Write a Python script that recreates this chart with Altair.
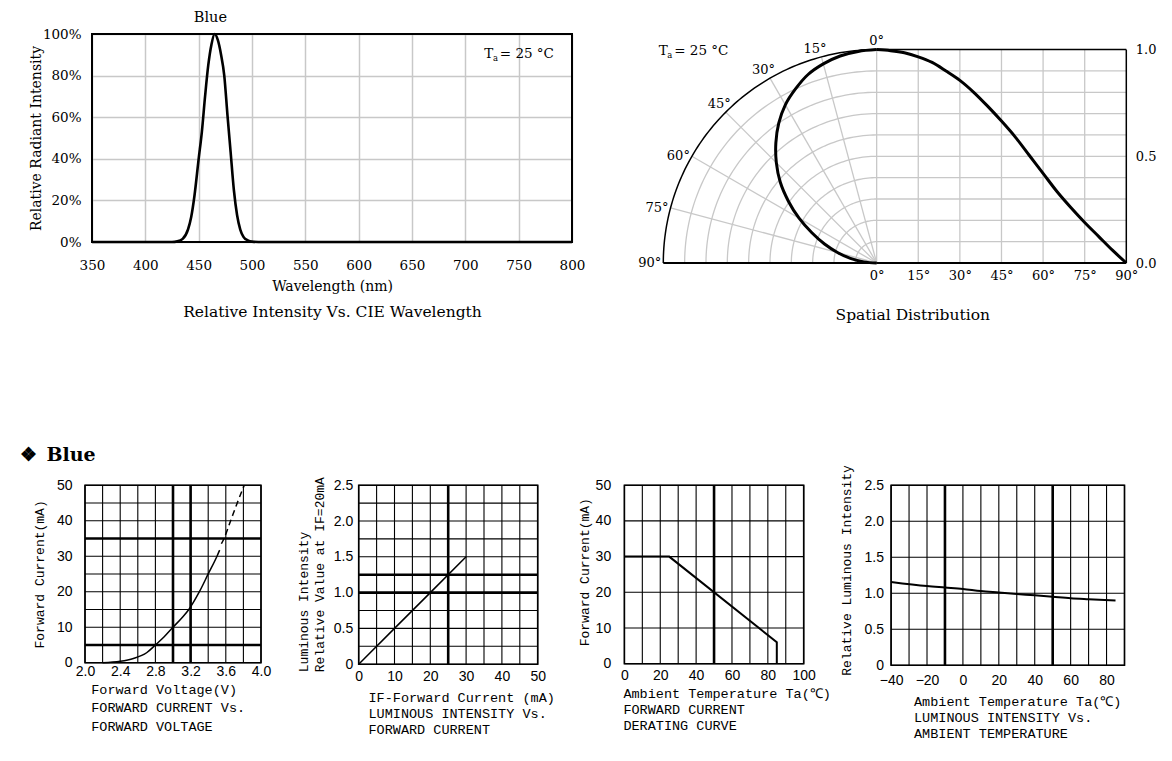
import math
import altair as alt
import pandas as pd

# ---------------- data ----------------
# Relative intensity vs wavelength (Blue)
spec_wl = [350, 400, 425, 430, 435, 440, 443, 446, 450, 453, 456, 459, 462, 465, 468, 471, 474, 477, 480, 483, 486, 489, 492, 496, 500, 510, 800]
spec_rel = [0, 0, 0, 0.3, 1.5, 6, 12, 22, 40, 53, 70, 85, 95, 100, 97, 90, 80, 61, 43, 25, 13, 6, 2.5, 0.8, 0.2, 0, 0]
spec_xticks = [350, 400, 450, 500, 550, 600, 650, 700, 750, 800]
spec_yticks = [0, 20, 40, 60, 80, 100]

# Spatial distribution
sp_angle = [0, 5, 10, 15, 20, 25, 30, 35, 40, 45, 50, 55, 60, 65, 70, 75, 80, 85, 90]
sp_int = [1.0, 0.995, 0.985, 0.966, 0.94, 0.90, 0.856, 0.80, 0.735, 0.665, 0.59, 0.505, 0.42, 0.335, 0.26, 0.19, 0.125, 0.06, 0.0]
polar_rings = [0.1, 0.2, 0.3, 0.4, 0.5, 0.6, 0.7, 0.8, 0.9]
polar_spokes = [0, 15, 30, 45, 60, 75]
polar_labels = [0, 15, 30, 45, 60, 75, 90]
sp_hgrid = [0.1, 0.2, 0.3, 0.4, 0.5, 0.6, 0.7, 0.8, 0.9]
sp_vgrid = [15, 30, 45, 60, 75]
sp_xticks = [0, 15, 30, 45, 60, 75, 90]
sp_yticks = [0, 0.5, 1.0]

# Forward current vs forward voltage
iv_v_solid = [2.2, 2.4, 2.55, 2.7, 2.8, 2.9, 3.0, 3.1, 3.18, 3.3, 3.4, 3.5, 3.53]
iv_i_solid = [0, 0.4, 1.2, 2.8, 5, 7.3, 10, 12.6, 15, 20, 25, 30, 31.7]
iv_v_dash = [3.55, 3.58, 3.655, 3.73, 3.81]
iv_i_dash = [33.5, 35, 40, 45, 50]
p3_xgrid = [2.0, 2.2, 2.4, 2.6, 2.8, 3.0, 3.2, 3.4, 3.6, 3.8, 4.0]
p3_ygrid = [0, 5, 10, 15, 20, 25, 30, 35, 40, 45, 50]
p3_xheavy = [3.0, 3.2]
p3_yheavy = [5, 35]
p3_xticks = [2.0, 2.4, 2.8, 3.2, 3.6, 4.0]
p3_yticks = [0, 10, 20, 30, 40, 50]

# Luminous intensity vs forward current
li_if = [0, 10, 20, 30]
li_rel = [0, 0.5, 1.0, 1.5]
p4_xgrid = [0, 5, 10, 15, 20, 25, 30, 35, 40, 45, 50]
p4_ygrid = [0, 0.25, 0.5, 0.75, 1.0, 1.25, 1.5, 1.75, 2.0, 2.25, 2.5]
p4_xheavy = [25]
p4_yheavy = [1.0, 1.25]
p4_xticks = [0, 10, 20, 30, 40, 50]
p4_yticks = [0, 0.5, 1.0, 1.5, 2.0, 2.5]

# Forward current derating curve
dr_ta = [0, 25, 85, 85]
dr_if = [30, 30, 6, 0]
p5_xgrid = [0, 10, 20, 30, 40, 50, 60, 70, 80, 90, 100]
p5_ygrid = [0, 10, 20, 30, 40, 50]
p5_xheavy = [50]
p5_yheavy = []
p5_xticks = [0, 20, 40, 60, 80, 100]
p5_yticks = [0, 10, 20, 30, 40, 50]

# Luminous intensity vs ambient temperature
lt_ta = [-40, -20, -10, 0, 10, 20, 30, 40, 50, 60, 70, 85]
lt_rel = [1.157, 1.10, 1.08, 1.06, 1.03, 1.01, 0.99, 0.97, 0.95, 0.93, 0.917, 0.90]
p6_xgrid = [-40, -30, -20, -10, 0, 10, 20, 30, 40, 50, 60, 70, 80, 90]
p6_ygrid = [0, 0.5, 1.0, 1.5, 2.0, 2.5]
p6_xheavy = [-10, 50]
p6_yheavy = []
p6_xticks = [-40, -20, 0, 20, 40, 60, 80]
p6_yticks = [0, 0.5, 1.0, 1.5, 2.0, 2.5]

# ---------------- style ----------------
SERIF = "DejaVu Serif"
SANS = "Liberation Sans"
MONO = "Liberation Mono"
GRAY = "#c8c8c8"


def df(**cols):
    return pd.DataFrame(cols)


def ta_label(x, y, size=13.5):
    base = alt.Chart(df(t=[0]))
    t1 = base.mark_text(text="T", align="left", baseline="middle", font=SERIF, fontSize=size, color="black").encode(
        x=alt.value(x), y=alt.value(y))
    t2 = base.mark_text(text="a", align="left", baseline="middle", font=SERIF, fontSize=size * 0.62, color="black").encode(
        x=alt.value(x + 8.6), y=alt.value(y + 4))
    t3 = base.mark_text(text="= 25 °C", align="left", baseline="middle", font=SERIF, fontSize=size, color="black").encode(
        x=alt.value(x + 15.5), y=alt.value(y))
    return [t1, t2, t3]


# ---------------- panel 1 : spectrum ----------------
W1, H1 = 487, 208
x1s = alt.Scale(domain=[350, 800], range=[7, 487], nice=False, zero=False)
y1s = alt.Scale(domain=[0, 100], nice=False, zero=False)
x1ax = alt.Axis(values=spec_xticks, grid=True, gridColor=GRAY, gridWidth=1.5, domain=False, ticks=False,
                labelFont=SERIF, labelFontSize=13.5, labelPadding=16, labelFlush=False, labelOverlap=False,
                title="Wavelength (nm)", titleFont=SERIF, titleFontSize=14, titleY=44, titleBaseline="middle")
y1ax = alt.Axis(values=spec_yticks, grid=True, gridColor=GRAY, gridWidth=1.5, domain=False, ticks=False,
                labelFont=SERIF, labelFontSize=13.5, labelPadding=4, labelFlush=False, labelOverlap=False,
                labelExpr="datum.value + '%'",
                title="Relative Radiant Intensity", titleFont=SERIF, titleFontSize=14,
                titleX=-49, titleY=104, titleBaseline="middle", titleAlign="center")

frame1 = alt.Chart(df(a=[0])).mark_rect(fill="transparent", stroke="black", strokeWidth=2).encode(
    x=alt.XDatum(350, type="quantitative", scale=x1s, axis=x1ax), x2=alt.datum(800),
    y=alt.YDatum(0, type="quantitative", scale=y1s, axis=y1ax), y2=alt.datum(100))
spec_line = alt.Chart(df(wl=spec_wl, rel=spec_rel)).mark_line(color="black", strokeWidth=2.6, interpolate="monotone").encode(
    x=alt.X("wl:Q", scale=x1s, axis=x1ax), y=alt.Y("rel:Q", scale=y1s, axis=y1ax))
blue_lab = alt.Chart(df(t=["Blue"])).mark_text(font=SERIF, fontSize=14.5, color="black", baseline="middle").encode(
    x=alt.value(125.4), y=alt.value(-15.6), text="t:N")

p1 = alt.layer(frame1, spec_line, blue_lab, *ta_label(399.3, 20)).properties(
    width=W1, height=H1,
    title=alt.TitleParams("Relative Intensity Vs. CIE Wavelength", orient="bottom", anchor="middle", frame="group",
                          font=SERIF, fontSize=15.5, fontWeight="normal", color="black", dx=4, offset=12))

# ---------------- panel 2 : spatial distribution ----------------
# one x scale in units of the polar radius; the cartesian part maps 90 deg -> CW/R
R = 213.4
CW = 249.7
K = CW / (90.0 * R)          # polar units per degree on the cartesian side
W2, H2 = 463, 229
p2x = alt.Scale(domain=[-1, CW / R], nice=False, zero=False)
p2y = alt.Scale(domain=[0, H2 / R], nice=False, zero=False)
p2yax = alt.Axis(orient="right", values=sp_yticks, format=".1f", grid=False, domain=False, ticks=False,
                 labelFont=SERIF, labelFontSize=13, labelPadding=9, labelFlush=False, title=None)
p2xax = alt.Axis(values=[a * K for a in sp_xticks], labelExpr="format(round(datum.value / %r), 'd') + '°'" % K,
                 grid=False, domain=False, ticks=False,
                 labelFont=SERIF, labelFontSize=13, labelPadding=6, labelFlush=False, labelOverlap=False, title=None)


def X2(f):
    return alt.X(f, scale=p2x, axis=p2xax)


def Y2(f):
    return alt.Y(f, scale=p2y, axis=p2yax)


rings = alt.Chart(df(r=polar_rings)).transform_calculate(a="sequence(0, 90.5, 1.5)").transform_flatten(
    ["a"]).transform_calculate(px="-datum.r*sin(datum.a*PI/180)", py="datum.r*cos(datum.a*PI/180)").mark_line(
    color=GRAY, strokeWidth=1.3).encode(x=X2("px:Q"), y=Y2("py:Q"), detail="r:N", order=alt.Order("a:Q"))
outer = alt.Chart(df(r=[1.0])).transform_calculate(a="sequence(0, 90.5, 1)").transform_flatten(
    ["a"]).transform_calculate(px="-datum.r*sin(datum.a*PI/180)", py="datum.r*cos(datum.a*PI/180)").mark_line(
    color="black", strokeWidth=1.5).encode(x=X2("px:Q"), y=Y2("py:Q"), order=alt.Order("a:Q"))
spokes = alt.Chart(df(a=polar_spokes)).transform_calculate(
    zx="0", zy="0", ex="-sin(datum.a*PI/180)", ey="cos(datum.a*PI/180)").mark_rule(color=GRAY, strokeWidth=1.3).encode(
    x=X2("zx:Q"), y=Y2("zy:Q"), x2="ex:Q", y2="ey:Q")
polar_curve = alt.Chart(df(angle=sp_angle, inten=sp_int)).transform_calculate(
    px="-datum.inten*sin(datum.angle*PI/180)", py="datum.inten*cos(datum.angle*PI/180)").mark_line(
    color="black", strokeWidth=3, interpolate="catmull-rom").encode(
    x=X2("px:Q"), y=Y2("py:Q"), order=alt.Order("angle:Q"))
plab = alt.Chart(df(a=polar_labels)).transform_calculate(
    px="-sin(datum.a*PI/180)", py="cos(datum.a*PI/180)", lab="datum.a + '°'")
plab0 = plab.transform_filter("datum.a == 0").mark_text(
    align="center", baseline="bottom", dy=-2, font=SERIF, fontSize=13, color="black").encode(
    x=X2("px:Q"), y=Y2("py:Q"), text="lab:N")
plab1 = plab.transform_filter("datum.a > 0 && datum.a <= 45").mark_text(
    align="right", baseline="bottom", dx=5, dy=-1, font=SERIF, fontSize=13, color="black").encode(
    x=X2("px:Q"), y=Y2("py:Q"), text="lab:N")
plab2 = plab.transform_filter("datum.a > 45").mark_text(
    align="right", baseline="middle", dx=-2, font=SERIF, fontSize=13, color="black").encode(
    x=X2("px:Q"), y=Y2("py:Q"), text="lab:N")

hgrid = alt.Chart(df(v=sp_hgrid)).transform_calculate(x0="0", x1=str(90 * K)).mark_rule(
    color=GRAY, strokeWidth=1.3).encode(x=X2("x0:Q"), x2="x1:Q", y=Y2("v:Q"))
vgrid = alt.Chart(df(v=sp_vgrid)).transform_calculate(cx="datum.v * %r" % K, y0="0", y1="1").mark_rule(
    color=GRAY, strokeWidth=1.3).encode(x=X2("cx:Q"), y=Y2("y0:Q"), y2="y1:Q")
frame_lines = alt.Chart(df(x0=[0, 0, 90, -90], x1=[90, 90, 90, 0], y0=[1, 0, 0, 0], y1=[1, 0, 1, 0],
                           w=[1.5, 2, 1.5, 2])).transform_calculate(
    cx0="datum.x0 < 0 ? -1 : datum.x0 * %r" % K, cx1="datum.x1 * %r" % K).mark_rule(color="black").encode(
    x=X2("cx0:Q"), x2="cx1:Q", y=Y2("y0:Q"), y2="y1:Q",
    strokeWidth=alt.StrokeWidth("w:Q", scale=None, legend=None))
cart_curve = alt.Chart(df(angle=sp_angle, inten=sp_int)).transform_calculate(cx="datum.angle * %r" % K).mark_line(
    color="black", strokeWidth=3, interpolate="monotone").encode(x=X2("cx:Q"), y=Y2("inten:Q"), order=alt.Order("angle:Q"))

p2 = alt.layer(rings, spokes, hgrid, vgrid, outer, frame_lines, polar_curve, cart_curve,
               plab0, plab1, plab2, *ta_label(-4.6, 17)).properties(
    width=W2, height=H2,
    title=alt.TitleParams("Spatial Distribution", orient="bottom", anchor="middle", frame="group",
                          font=SERIF, fontSize=15.5, fontWeight="normal", color="black", dx=18, offset=26))


# ---------------- bottom grid panels ----------------
def grid_panel(W, H, xdom, ydom, xgrid, ygrid, xheavy, yheavy, xaxis, yaxis, curves, xrange=None, title=None):
    if xrange is not None:
        xs = alt.Scale(domain=xdom, range=xrange, nice=False, zero=False)
    else:
        xs = alt.Scale(domain=xdom, nice=False, zero=False)
    ys = alt.Scale(domain=ydom, nice=False, zero=False)

    def XF(f):
        return alt.X(f, scale=xs, axis=xaxis)

    def YF(f):
        return alt.Y(f, scale=ys, axis=yaxis)

    lo_y, hi_y = "%r" % ydom[0], "%r" % ydom[1]
    lo_x, hi_x = "%r" % xdom[0], "%r" % xdom[1]
    layers = []

    def vrules(vals, w):
        return alt.Chart(df(v=vals)).transform_calculate(a=lo_y, b=hi_y).mark_rule(color="black", strokeWidth=w).encode(
            x=XF("v:Q"), y=YF("a:Q"), y2="b:Q")

    def hrules(vals, w):
        return alt.Chart(df(v=vals)).transform_calculate(a=lo_x, b=hi_x).mark_rule(color="black", strokeWidth=w).encode(
            y=YF("v:Q"), x=XF("a:Q"), x2="b:Q")

    layers.append(vrules(xgrid, 1.1))
    layers.append(hrules(ygrid, 1.1))
    if xheavy:
        layers.append(vrules(xheavy, 2.6))
    if yheavy:
        layers.append(hrules(yheavy, 2.6))
    layers.append(alt.Chart(df(a=[xdom[0]], b=[xdom[1]], c=[ydom[0]], d=[ydom[1]])).mark_rect(
        fill="transparent", stroke="black", strokeWidth=1.6).encode(x=XF("a:Q"), x2="b:Q", y=YF("c:Q"), y2="d:Q"))
    for (xv, yv, props) in curves:
        layers.append(alt.Chart(df(xv=xv, yv=yv, i=list(range(len(xv))))).mark_line(color="black", **props).encode(
            x=XF("xv:Q"), y=YF("yv:Q"), order=alt.Order("i:Q")))
    props = dict(width=W, height=H)
    if title is not None:
        props["title"] = title
    return alt.layer(*layers).properties(**props)


def xaxis_b(values, expr, pad, title, tx, ty, lh):
    return alt.Axis(values=values, labelExpr=expr, grid=False, domain=False, ticks=False,
                    labelFont=SANS, labelFontSize=14, labelPadding=pad, labelFlush=False, labelOverlap=False,
                    title=title, titleFont=MONO, titleFontSize=13.5, titleAlign="left", titleAnchor="start",
                    titleX=tx, titleY=ty, titleBaseline="top", titleLineHeight=lh)


def yaxis_b(values, expr, pad, title, tx, ty, align="center", baseline="middle", lh=16):
    return alt.Axis(values=values, labelExpr=expr, grid=False, domain=False, ticks=False,
                    labelFont=SANS, labelFontSize=14, labelPadding=pad, labelFlush=False, labelOverlap=False,
                    title=title, titleFont=MONO, titleFontSize=13, titleAlign=align,
                    titleX=tx, titleY=ty, titleBaseline=baseline, titleLineHeight=lh)


INT_FMT = "format(datum.value, 'd')"
ONE_FMT = "format(datum.value, '.1f')"
HALF_FMT = "datum.value == 0 ? '0' : format(datum.value, '.1f')"
NEG_FMT = "datum.value < 0 ? '\u2212' + format(-datum.value, 'd') : format(datum.value, 'd')"

p3 = grid_panel(
    187, 177.5, [2.0, 4.0], [0, 50], p3_xgrid, p3_ygrid, p3_xheavy, p3_yheavy,
    xaxis_b(p3_xticks, ONE_FMT, 2, ["Forward Voltage(V)", "FORWARD CURRENT Vs.", "FORWARD VOLTAGE"], 5.7, 19.3, 18.5),
    yaxis_b(p3_yticks, INT_FMT, 13, "Forward Current(mA)", -46, 88.7),
    [(iv_v_solid, iv_i_solid, dict(strokeWidth=1.5, interpolate="monotone")),
     (iv_v_dash, iv_i_dash, dict(strokeWidth=1.5, strokeDash=[6, 4], interpolate="monotone"))],
    xrange=[0, 176],
    title=alt.TitleParams("\u2756\u00a0\u2006Blue", orient="top", anchor="start", frame="group", font=SERIF,
                          fontSize=19, fontWeight="bold", color="black", dx=-65.3, offset=13))

p4 = grid_panel(
    179, 179, [0, 50], [0, 2.5], p4_xgrid, p4_ygrid, p4_xheavy, p4_yheavy,
    xaxis_b(p4_xticks, INT_FMT, 5.6, ["IF-Forward Current (mA)", "LUMINOUS INTENSITY Vs.", "FORWARD CURRENT"], 9.3, 26.3, 16),
    yaxis_b(p4_yticks, HALF_FMT, 6, ["Luminous Intensity", "Relative Value at IF=20mA"], -61.7, 186.5,
            align="left", baseline="top", lh=16.3),
    [(li_if, li_rel, dict(strokeWidth=1.5))])

p5 = grid_panel(
    179.3, 178.5, [0, 100], [0, 50], p5_xgrid, p5_ygrid, p5_xheavy, p5_yheavy,
    xaxis_b(p5_xticks, INT_FMT, 4.4, ["Ambient Temperature Ta(\u2103)", "FORWARD CURRENT", "DERATING CURVE"], -1.5, 22.4, 16.3),
    yaxis_b(p5_yticks, INT_FMT, 13.7, "Forward Current(mA)", -40, 86.5),
    [(dr_ta, dr_if, dict(strokeWidth=2))])

p6 = grid_panel(
    233.4, 180, [-40, 90], [0, 2.5], p6_xgrid, p6_ygrid, p6_xheavy, p6_yheavy,
    xaxis_b(p6_xticks, NEG_FMT, 8.4, ["Ambient Temperature Ta(\u2103)", "LUMINOUS INTENSITY Vs.", "AMBIENT TEMPERATURE"], 22.4, 29, 16.2),
    yaxis_b(p6_yticks, HALF_FMT, 7.6, "Relative Luminous Intensity", -44.3, 84.7),
    [(lt_ta, lt_rel, dict(strokeWidth=2, interpolate="monotone"))])

top = alt.hconcat(p1, p2, spacing=91.3, bounds="flush")
bottom = alt.hconcat(p3, p4, p5, p6, spacing=86.7, bounds="flush")

chart = alt.vconcat(top, bottom, spacing=451.2, bounds="flush").properties(
    padding={"left": 11, "top": 2, "right": 5, "bottom": 5}, background="white"
).configure_view(strokeWidth=0).configure_axis(
    labelColor="black", titleColor="black", titleFontWeight="normal")

chart.save("out.html", embed_options={"renderer": "svg", "actions": False})
